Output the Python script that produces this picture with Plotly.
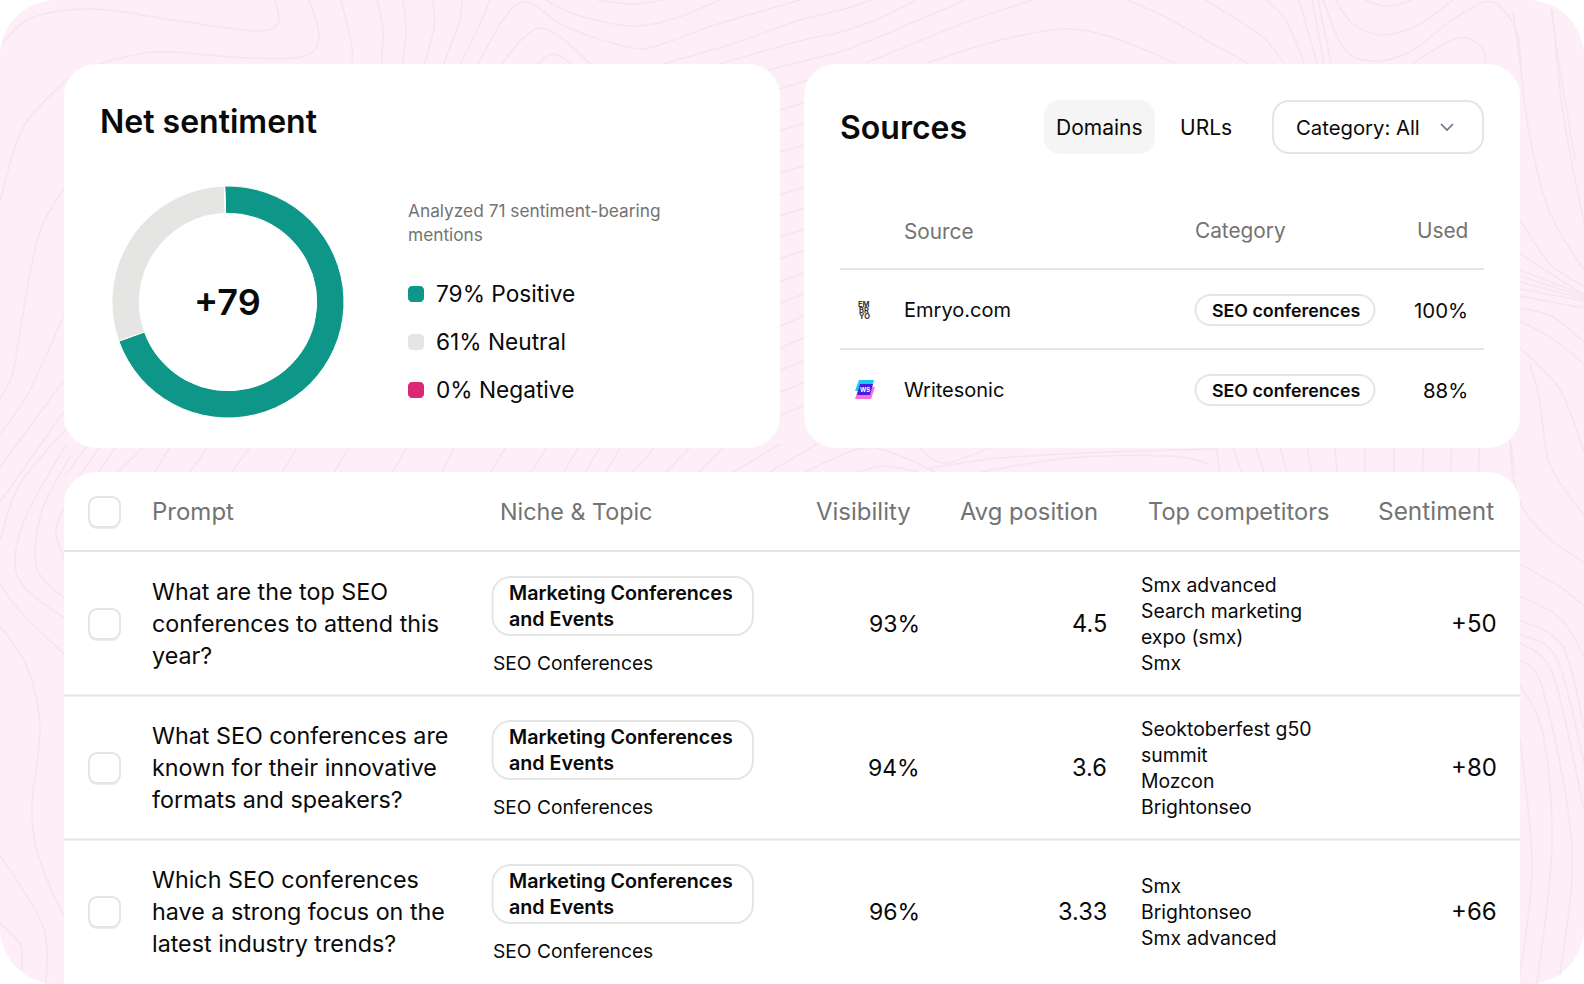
import plotly.graph_objects as go

W = 1584
H = 984

FONT = 'Inter'
INK = '#0a0a0a'
GREY = '#737373'
RULE = '#e5e5e5'
PINK = '#fdeef8'
CONTOUR = '#f4e5ee'

# net sentiment card
sentiment_labels = ['Positive', 'Neutral', 'Negative']
sentiment_legend = ['79% Positive', '61% Neutral', '0% Negative']
sentiment_share = [70, 30, 0]  # ring as drawn, the legend numbers do not add up
sentiment_colors = ['#0e9688', '#e5e5e3', '#db2777']
net_score = '+79'
analyzed_lines = ['Analyzed 71 sentiment-bearing', 'mentions']

# sources card
source_headers = ['Source', 'Category', 'Used']
source_names = ['Emryo.com', 'Writesonic']
source_categories = ['SEO conferences', 'SEO conferences']
source_used = ['100%', '88%']

# prompt table
prompts = [
    ['What are the top SEO', 'conferences to attend this', 'year?'],
    ['What SEO conferences are', 'known for their innovative', 'formats and speakers?'],
    ['Which SEO conferences', 'have a strong focus on the', 'latest industry trends?'],
]
niche_lines = ['Marketing Conferences', 'and Events']
topics = ['SEO Conferences', 'SEO Conferences', 'SEO Conferences']
visibility = ['93%', '94%', '96%']
avg_position = ['4.5', '3.6', '3.33']
competitors = [
    ['Smx advanced', 'Search marketing', 'expo (smx)', 'Smx'],
    ['Seoktoberfest g50', 'summit', 'Mozcon', 'Brightonseo'],
    ['Smx', 'Brightonseo', 'Smx advanced'],
]
sentiment_scores = ['+50', '+80', '+66']

# background contour lines, traced by eye
contours = [
    [(4, 42), (31, 18), (92, 9), (173, 20), (255, 31), (278, 23), (275, 0)],
    [(77, 70), (153, 52), (230, 57), (301, 57), (319, 37), (309, 0)],
    [(351, 70), (352, 47), (341, 0)],
    [(381, 70), (383, 30), (377, 0)],
    [(402, 70), (406, 30), (403, 0)],
    [(423, 70), (434, 27), (433, 0)],
    [(441, 70), (459, 23), (462, 0)],
    [(457, 70), (477, 30), (490, 0)],
    [(475, 70), (505, 17), (528, 2), (566, 27), (633, 48), (665, 43), (715, 25), (800, 0)],
    [(497, 70), (541, 28), (597, 70)],
    [(531, 70), (554, 54), (577, 70)],
    [(546, 0), (577, 15), (633, 26), (679, 17), (719, 0)],
    [(597, 0), (633, 4), (663, 0)],
    [(663, 64), (735, 43), (800, 20), (841, 10), (871, 0)],
    [(719, 64), (800, 41), (841, 32), (880, 18), (917, 0)],
    [(768, 70), (800, 62), (845, 50), (900, 28), (965, 0)],
    [(866, 63), (967, 22), (1033, 0)],
    [(927, 63), (993, 42), (1063, 29), (1114, 38), (1175, 63)],
    [(1127, 0), (1165, 17), (1220, 48), (1248, 63)],
    [(1205, 0), (1241, 22), (1266, 40), (1284, 63)],
    [(1266, 0), (1286, 20), (1304, 63)],
    [(1299, 0), (1317, 63)],
    [(1312, 0), (1324, 63)],
    [(1318, 0), (1331, 63)],
    [(1336, 0), (1352, 23), (1382, 35), (1418, 25), (1453, 0)],
    [(1323, 0), (1345, 50), (1377, 61), (1413, 50), (1448, 23), (1484, 2), (1502, 8), (1517, 33), (1521, 63)],
    [(1413, 63), (1458, 38), (1481, 47), (1486, 63)],
    [(1365, 0), (1387, 6), (1413, 0)],
    [(1551, 8), (1560, 70), (1575, 160)],
    [(1513, 12), (1520, 63), (1530, 138), (1550, 213), (1584, 270)],
    [(1552, 9), (1563, 113), (1584, 223)],
    [(1520, 220), (1550, 264), (1584, 286)],
    [(1520, 254), (1584, 295)],
    [(1520, 270), (1584, 295)],
    [(1520, 276), (1584, 297)],
    [(1520, 282), (1584, 299)],
    [(1520, 289), (1584, 301)],
    [(1520, 296), (1584, 308)],
    [(1520, 308), (1553, 317), (1584, 342)],
    [(1520, 321), (1553, 339), (1584, 364)],
    [(1520, 348), (1543, 370), (1563, 395), (1584, 452)],
    [(1530, 364), (1540, 402), (1550, 465), (1584, 515)],
    [(1510, 440), (1513, 477), (1523, 508), (1547, 537), (1584, 562)],
    [(1520, 564), (1560, 587), (1584, 606)],
    [(1520, 596), (1560, 618), (1584, 656)],
    [(1520, 620), (1563, 647), (1584, 728)],
    [(1520, 634), (1557, 659), (1584, 763)],
    [(1520, 643), (1553, 675), (1584, 810)],
    [(1520, 685), (1543, 734), (1552, 847), (1537, 984)],
    [(1520, 660), (1543, 690), (1572, 847), (1560, 975)],
    [(1520, 738), (1532, 866), (1520, 975)],
    [(0, 201), (23, 128), (68, 78)],
    [(0, 399), (13, 372), (23, 313), (40, 231), (70, 180)],
    [(0, 434), (30, 390), (70, 300)],
    [(0, 467), (70, 372)],
    [(0, 502), (70, 403)],
    [(0, 540), (20, 484), (67, 428)],
    [(67, 443), (27, 514), (15, 561), (27, 590), (70, 622)],
    [(70, 456), (43, 508), (35, 555), (43, 579), (70, 602)],
    [(70, 498), (56, 531), (70, 572)],
    [(0, 584), (20, 611), (70, 660)],
    [(0, 626), (27, 667), (40, 726), (32, 808), (40, 861), (70, 930)],
    [(0, 855), (43, 926), (46, 984)],
    [(0, 923), (20, 944), (22, 970)],
    [(920, 449), (945, 463), (995, 446)],
    [(925, 469), (1000, 458), (1110, 452), (1216, 449)],
    [(980, 472), (1070, 458), (1170, 456), (1210, 464)],
    [(857, 472), (885, 466), (918, 472)],
    [(805, 472), (858, 449), (890, 452), (935, 472)],
]
# the short strokes in the gap between the cards, x at y=448 and at y=472
gap_top = [88, 102, 118, 147, 172, 210, 252, 299, 351, 409, 456, 508, 549, 580, 602, 622, 658, 693, 727, 780, 817,
           1216, 1232, 1255, 1279, 1307, 1335, 1365, 1394, 1424, 1452, 1480, 1511]
gap_bottom = [65, 79, 96, 114, 152, 187, 229, 280, 332, 390, 440, 488, 529, 562, 583, 604, 629, 662, 695, 727, 763,
              1220, 1243, 1265, 1288, 1312, 1337, 1365, 1394, 1422, 1450, 1478, 1515]
# and the ones between the two top cards, y at x=780 and at x=804
gutter_left = [89, 110, 131, 152, 173, 195, 216, 237, 259, 282, 304, 327, 349, 371, 393, 416]
gutter_right = [81, 103, 123, 145, 166, 187, 208, 229, 250, 272, 293, 315, 337, 360, 382, 405]


def rounded(x0, y0, x1, y1, r):
    k = r * 0.45
    return (f'M{x0 + r},{y0} L{x1 - r},{y0} C{x1 - k},{y0} {x1},{y0 + k} {x1},{y0 + r} '
            f'L{x1},{y1 - r} C{x1},{y1 - k} {x1 - k},{y1} {x1 - r},{y1} '
            f'L{x0 + r},{y1} C{x0 + k},{y1} {x0},{y1 - k} {x0},{y1 - r} '
            f'L{x0},{y0 + r} C{x0},{y0 + k} {x0 + k},{y0} {x0 + r},{y0} Z')


def smooth(points):
    # catmull-rom through the traced points
    path = f'M{points[0][0]},{points[0][1]}'
    for i in range(len(points) - 1):
        p0 = points[max(i - 1, 0)]
        p1 = points[i]
        p2 = points[i + 1]
        p3 = points[min(i + 2, len(points) - 1)]
        c1 = (p1[0] + (p2[0] - p0[0]) / 6, p1[1] + (p2[1] - p0[1]) / 6)
        c2 = (p2[0] - (p3[0] - p1[0]) / 6, p2[1] - (p3[1] - p1[1]) / 6)
        path += f' C{c1[0]:.1f},{c1[1]:.1f} {c2[0]:.1f},{c2[1]:.1f} {p2[0]},{p2[1]}'
    return path


fig = go.Figure()

# keeps the pixel axes alive, everything else hangs off them
fig.add_trace(go.Scatter(x=[0, W], y=[0, H], mode='markers', marker=dict(opacity=0),
                         hoverinfo='skip', showlegend=False))

ring_x = [112, 344]
ring_y = [186, 418]
fig.add_trace(go.Pie(
    labels=sentiment_labels,
    values=sentiment_share,
    hole=0.765,
    sort=False,
    direction='clockwise',
    rotation=-1.7,
    textinfo='none',
    hoverinfo='skip',
    showlegend=False,
    marker=dict(colors=sentiment_colors, line=dict(color='#ffffff', width=1)),
    domain=dict(x=[ring_x[0] / W, ring_x[1] / W], y=[1 - ring_y[1] / H, 1 - ring_y[0] / H]),
))


def box(x0, y0, x1, y1, r, fill='#ffffff', line=None, width=2):
    fig.add_shape(type='path', path=rounded(x0, y0, x1, y1, r), xref='x', yref='y', layer='below',
                  fillcolor=fill, line=dict(color=line if line else fill, width=width if line else 0))


def rule(x0, x1, y):
    fig.add_shape(type='line', x0=x0, x1=x1, y0=y, y1=y, xref='x', yref='y', layer='below',
                  line=dict(color=RULE, width=2))


def stroke(points):
    fig.add_shape(type='path', path=smooth(points), xref='x', yref='y', layer='below',
                  line=dict(color=CONTOUR, width=1.5))


def label(x, y, text, size, color=INK, weight=400, anchor='left'):
    fig.add_annotation(x=x, y=y, text=text, xref='x', yref='y', showarrow=False, xanchor=anchor, yanchor='middle',
                       borderpad=0, font=dict(family=FONT, size=size, color=color, weight=weight))


def checkbox(y):
    box(89, y - 14, 120, y + 17, 8, fill='#ececec')
    box(89, y - 15, 120, y + 15, 8, line=RULE)


# page and background
box(0, 0, W, H, 56, fill=PINK)
for points in contours:
    stroke(points)
for top, bottom in zip(gap_top, gap_bottom):
    stroke([(top, 444), (bottom, 476)])
for left, right in zip(gutter_left, gutter_right):
    stroke([(776, left + 1), (808, right - 1)])

# cards
box(64, 64, 780, 448, 32)
box(804, 64, 1520, 448, 32)
box(64, 472, 1520, 1020, 32)

# net sentiment
label(99, 121, 'Net sentiment', 32, weight=600)
label(227.5, 302, net_score, 36, weight=600, anchor='center')
for i, line in enumerate(analyzed_lines):
    label(407, 210 + i * 24, line, 17.3, color=GREY)
for i, text in enumerate(sentiment_legend):
    y = 294 + i * 48
    box(408, y - 8, 424, y + 8, 4, fill=sentiment_colors[i])
    label(435, y - 0.5, text, 22.7)

# sources header
label(839, 127, 'Sources', 32, weight=600)
box(1044, 100, 1155, 154, 16, fill='#f5f5f5')
label(1055, 127, 'Domains', 21)
label(1179, 127, 'URLs', 21)
box(1273, 101, 1483, 153, 16, line=RULE)
label(1295, 127, 'Category: All', 20.3)
fig.add_shape(type='path', path='M1441,124 L1447,130 L1453,124', xref='x', yref='y', layer='above',
              line=dict(color='#64748b', width=1.6))

# sources table
label(903, 231, source_headers[0], 20.8, color=GREY)
label(1194, 230, source_headers[1], 20.8, color=GREY)
label(1469, 230, source_headers[2], 20.8, color=GREY, anchor='right')
rule(840, 1484, 269)
rule(840, 1484, 349)
for i, name in enumerate(source_names):
    y = 310 + i * 80
    label(903, y, name, 20)
    box(1195.5, y - 15, 1374.5, y + 15, 15, line=RULE)
    label(1210.5, y, source_categories[i], 17.8, weight=600)
    label(1469, y, source_used[i], 20.4, anchor='right')

# source logos
for i, part in enumerate(['EM', 'BR', 'YO']):
    label(864, 304 + i * 6, part, 7.5, color='#333333', weight=700, anchor='center')
fig.add_shape(type='path', path='M859,387 L875,387 L871,399 L855,399 Z', xref='x', yref='y', layer='below',
              fillcolor='#f472d8', line=dict(width=0))
fig.add_shape(type='path', path='M859,380 L874,380 L871,391 L855,391 Z', xref='x', yref='y', layer='below',
              fillcolor='#18c8f5', line=dict(width=0))
fig.add_shape(type='path', path='M860,384 L873,384 L870,395 L857,395 Z', xref='x', yref='y', layer='below',
              fillcolor='#4a1be0', line=dict(width=0))
label(864.5, 389.5, 'WS', 6, color='#ffffff', weight=700, anchor='center')

# prompt table header
checkbox(512)
label(151, 511, 'Prompt', 24, color=GREY)
label(499, 511, 'Niche &amp; Topic', 23.3, color=GREY)
label(815, 511, 'Visibility', 24, color=GREY)
label(959, 511, 'Avg position', 23.8, color=GREY)
label(1146.5, 511, 'Top competitors', 23.6, color=GREY)
label(1377, 511, 'Sentiment', 24.4, color=GREY)
rule(64, 1520, 551)

# prompt rows
for i, lines in enumerate(prompts):
    mid = 624 + i * 144
    checkbox(mid)
    for j, line in enumerate(lines):
        label(151, mid - 33 + j * 32, line, 23.3)
    box(492.5, mid - 47, 753, mid + 11, 18, line=RULE)
    for j, line in enumerate(niche_lines):
        label(507.5, mid - 31 + j * 26, line, 19.7, weight=600)
    label(491.5, mid + 39, topics[i], 19.2)
    label(921, mid - 0.5, visibility[i], 23, anchor='right')
    label(1108, mid - 0.5, avg_position[i], 23.6, anchor='right')
    names = competitors[i]
    for j, name in enumerate(names):
        label(1139.5, mid + (j - (len(names) - 1) / 2) * 26, name, 19.4)
    label(1498, mid - 0.5, sentiment_scores[i], 24, anchor='right')
    if i < 2:
        rule(64, 1520, mid + 71.5)

fig.update_layout(
    width=W,
    height=H,
    margin=dict(l=0, r=0, t=0, b=0),
    paper_bgcolor='#ffffff',
    plot_bgcolor='rgba(0,0,0,0)',
    xaxis=dict(range=[0, W], visible=False, fixedrange=True),
    yaxis=dict(range=[H, 0], visible=False, fixedrange=True),
)

fig.write_html('out.html', config={'displayModeBar': False},
               post_script="document.body.style.margin='0';document.body.style.overflow='hidden';")
